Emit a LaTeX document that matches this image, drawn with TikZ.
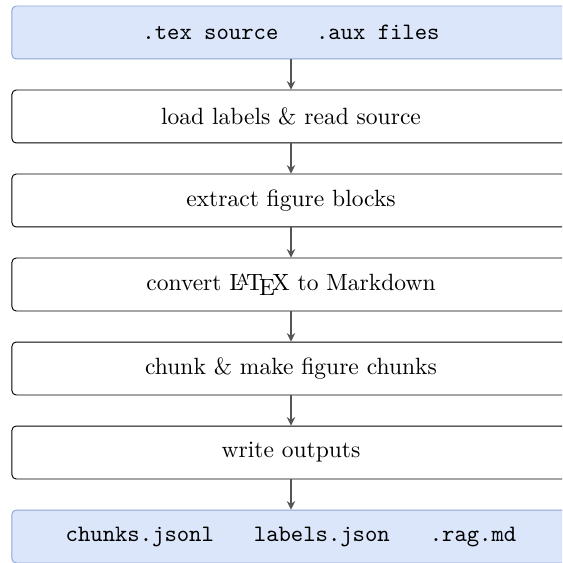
\documentclass[tikz,border=0pt]{standalone}
\usetikzlibrary{arrows.meta}
\definecolor{ioFill}{RGB}{220,230,250}
\definecolor{ioDraw}{RGB}{140,165,215}
\definecolor{flowGray}{RGB}{85,85,85}
\tikzset{
  stage/.style={draw=black, fill=white, rounded corners=1.8pt, inner sep=0pt,
    minimum width=237.2pt, minimum height=22.5pt},
  iobox/.style={stage, draw=ioDraw, fill=ioFill, font=\ttfamily},
  flow/.style={draw=flowGray, line width=0.8pt, -{Stealth[length=3.6pt,width=3.6pt]}}
}
\begin{document}
\begin{tikzpicture}[x=0.425pt,y=0.425pt,yscale=-1,xscale=1]
%set diagram to 562 x 563
\useasboundingbox (0,0) rectangle (562,563);
\clip (0,0) rectangle (562,563);

%Input files
\node[iobox] (src) at (291,32.5) {.tex source\hspace{1.6em}.aux files};
%Stages
\node[stage] (load) at (291,116.5) {load labels \& read source};
\node[stage] (extract) at (291,200.5) {extract figure blocks};
\node[stage] (convert) at (291,284.5) {convert \LaTeX{} to Markdown};
\node[stage] (chunk) at (291,368.5) {chunk \& make figure chunks};
\node[stage] (write) at (291,452.5) {write outputs};
%Output files
\node[iobox] (out) at (291,536.5) {chunks.jsonl\hspace{1.7em}labels.json\hspace{1.7em}.rag.md};

%Arrows
\draw[flow] (src) -- (load);
\draw[flow] (load) -- (extract);
\draw[flow] (extract) -- (convert);
\draw[flow] (convert) -- (chunk);
\draw[flow] (chunk) -- (write);
\draw[flow] (write) -- (out);

\end{tikzpicture}
\end{document}
